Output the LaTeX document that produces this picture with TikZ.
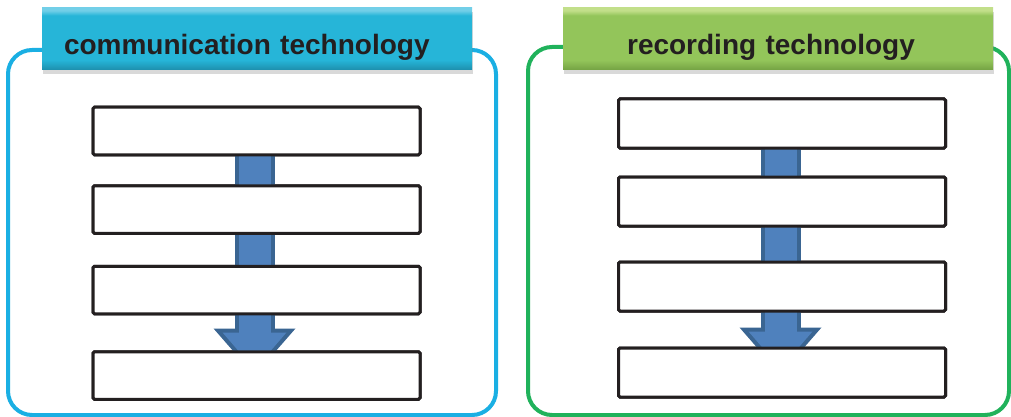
\documentclass[tikz,border=0pt]{standalone}
\usepackage{fontspec}
\newfontfamily\headfont{Liberation Sans}
\usetikzlibrary{arrows.meta,positioning,shadows}
\definecolor{commline}{HTML}{1AAFE3}
\definecolor{recline}{HTML}{20B25B}
\definecolor{commlight}{HTML}{72CFE8}
\definecolor{commmain}{HTML}{26B5D8}
\definecolor{commdark}{HTML}{1D8EAC}
\definecolor{reclight}{HTML}{C2DF8A}
\definecolor{recmain}{HTML}{93C55A}
\definecolor{recdark}{HTML}{74A243}
\definecolor{boxline}{HTML}{231F20}
\definecolor{headtext}{HTML}{231F20}
\definecolor{flowblue}{HTML}{4F81BD}
\definecolor{flowdark}{HTML}{3A6592}
\pgfdeclareverticalshading{commshade}{100bp}{color(0bp)=(commdark); color(25bp)=(commdark);
  color(33bp)=(commmain); color(69bp)=(commmain); color(73bp)=(commlight); color(100bp)=(commlight)}
\pgfdeclareverticalshading{recshade}{100bp}{color(0bp)=(recdark); color(25bp)=(recdark);
  color(33bp)=(recmain); color(69bp)=(recmain); color(73bp)=(reclight); color(100bp)=(reclight)}
\tikzset{
  panel/.style={rounded corners=24pt,line width=4pt,inner sep=0pt,outer sep=0pt},
  title/.style={draw=none,minimum width=430pt,text width=386pt,inner xsep=22pt,inner ysep=0pt,
    text height=47pt,text depth=15pt,font=\headfont\bfseries\fontsize{28}{33}\selectfont,
    text=headtext,drop shadow={opacity=0.3,shadow xshift=1pt,shadow yshift=-4pt}},
  stage/.style={draw=boxline,fill=white,line width=3pt,rounded corners=1.5pt,
    minimum width=327pt,minimum height=47.5pt,inner sep=0pt,outer sep=0pt},
  flowback/.style={draw=flowdark,line width=40pt,
    -{Triangle[width=82pt,length=47pt,line width=0pt]}},
  flowfront/.style={draw=flowblue,line width=32pt,shorten >=6pt,
    -{Triangle[width=64pt,length=37pt,line width=0pt]}}
}
\begin{document}
\begin{tikzpicture}[x=1pt,y=-1pt]
  \useasboundingbox (0,0) rectangle (1011,417);
  % frames
  \node[panel,draw=commline,minimum width=488pt,minimum height=365pt] (commframe) at (252,232.5) {};
  \node[panel,draw=recline,minimum width=481pt,minimum height=368pt] (recframe) at (768.5,231) {};
  % communication column
  \node[stage] (c1) at (256.5,131) {};
  \node[stage,below=31pt of c1] (c2) {};
  \node[stage,below=33pt of c2] (c3) {};
  \node[stage,below=38pt of c3] (c4) {};
  % recording column
  \node[stage,minimum height=49pt] (r1) at (782,123.5) {};
  \node[stage,minimum height=49pt,below=29pt of r1] (r2) {};
  \node[stage,minimum height=49pt,below=36pt of r2] (r3) {};
  \node[stage,minimum height=49pt,below=37pt of r3] (r4) {};
  % arrows behind the boxes
  \draw[flowback] ([xshift=-2pt]c1.center) -- ([xshift=-2pt]c1.center |- c4.center);
  \draw[flowfront] ([xshift=-2pt]c1.center) -- ([xshift=-2pt]c1.center |- c4.center);
  \draw[flowback,shorten >=-2pt] ([xshift=-1.5pt]r1.center) -- ([xshift=-1.5pt]r1.center |- r4.center);
  \draw[flowfront,shorten >=4pt] ([xshift=-1.5pt]r1.center) -- ([xshift=-1.5pt]r1.center |- r4.center);
  \foreach \n in {c1,c2,c3,c4}
    \node[stage] at (\n) {};
  \foreach \n in {r1,r2,r3,r4}
    \node[stage,minimum height=49pt] at (\n) {};
  % headings
  \node[title,shading=commshade,align=left] (commtitle) at (257,39) {communication technology};
  \node[title,shading=recshade,align=center] (rectitle) at (778,39) {recording technology\hspace*{14pt}};
\end{tikzpicture}
\end{document}
